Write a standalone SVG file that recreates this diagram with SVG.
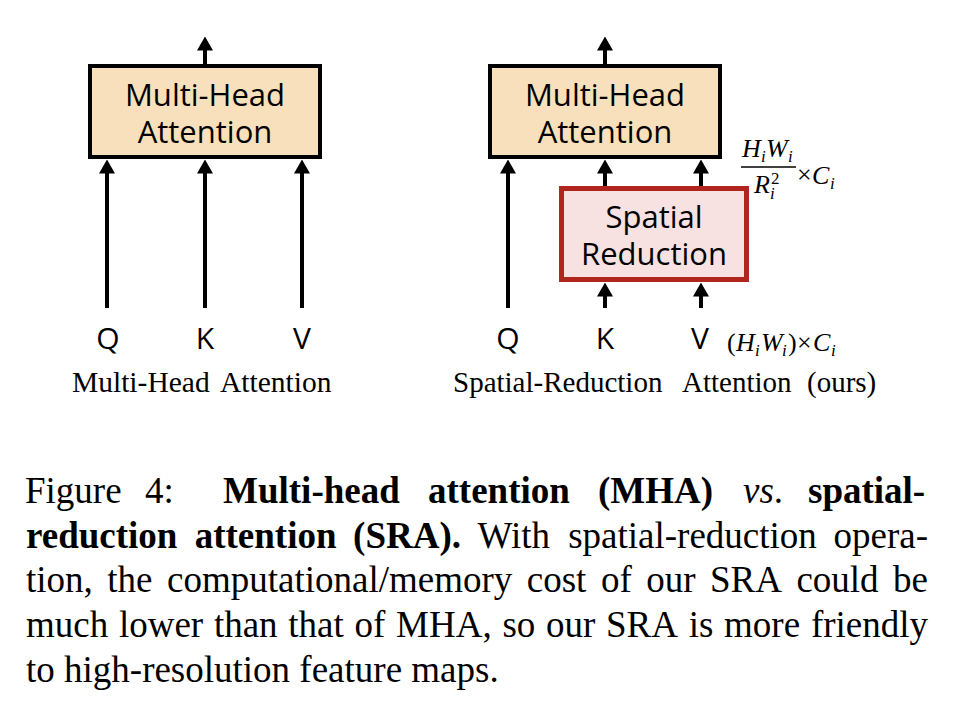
<svg xmlns="http://www.w3.org/2000/svg" width="974" height="718" viewBox="0 0 974 718">
<style>
.lbl{font-family:"Open Sans","Noto Sans",sans-serif;font-size:31px;fill:#000;text-anchor:middle}
.qkv{font-family:"Open Sans","Noto Sans",sans-serif;font-size:30px;fill:#000;text-anchor:middle}
.cap{font-family:"Liberation Serif","Times New Roman",serif;font-size:29.5px;fill:#000}
.fig{font-family:"Liberation Serif","Times New Roman",serif;font-size:37px;fill:#000}
.b{font-weight:bold}
.it{font-style:italic}
.m{font-family:"Liberation Serif","Times New Roman",serif;font-size:26px;font-style:italic;fill:#000}
.mu{font-family:"Liberation Serif","Times New Roman",serif;font-size:26px;fill:#000}
.ms{font-family:"Liberation Serif","Times New Roman",serif;font-size:17px;font-style:italic;fill:#000}
.sup{font-family:"Liberation Serif","Times New Roman",serif;font-size:17px;fill:#000}
.mha{fill:#F9E0BC;stroke:#000;stroke-width:4}
.sr{fill:#F8E1E1;stroke:#B0261E;stroke-width:5}
.conn line{stroke:#000;stroke-width:4;marker-end:url(#ah)}
</style>
<defs>
<marker id="ah" markerUnits="userSpaceOnUse" markerWidth="14" markerHeight="16" viewBox="0 0 14 16" refX="0.5" refY="8" orient="auto">
<path d="M0,0 L14,8 L0,16 z" fill="#000"/>
</marker>
</defs>
<rect width="974" height="718" fill="#fff"/>

<g id="left-mha">
<rect class="mha" x="90" y="66" width="230" height="91"/>
<text class="lbl" x="205" y="106">Multi-Head</text>
<text class="lbl" x="205" y="143">Attention</text>
</g>
<g id="left-q"><text class="qkv" x="108" y="349">Q</text></g>
<g id="left-k"><text class="qkv" x="205" y="349">K</text></g>
<g id="left-v"><text class="qkv" x="302" y="349">V</text></g>

<g id="right-mha">
<rect class="mha" x="490" y="66" width="230" height="91"/>
<text class="lbl" x="605" y="106">Multi-Head</text>
<text class="lbl" x="605" y="143">Attention</text>
</g>
<g id="spatial-reduction">
<rect class="sr" x="561.5" y="188.5" width="185" height="91"/>
<text class="lbl" x="654" y="228">Spatial</text>
<text class="lbl" x="654" y="265">Reduction</text>
</g>
<g id="right-q"><text class="qkv" x="508" y="349">Q</text></g>
<g id="right-k"><text class="qkv" x="605" y="349">K</text></g>
<g id="right-v"><text class="qkv" x="700" y="349">V</text></g>

<g class="conn" id="connectors">
<line x1="205" y1="64" x2="205" y2="50"/>
<line x1="107" y1="308" x2="107" y2="173"/>
<line x1="205" y1="308" x2="205" y2="173"/>
<line x1="302" y1="308" x2="302" y2="173"/>
<line x1="605" y1="64" x2="605" y2="50"/>
<line x1="508" y1="308" x2="508" y2="173"/>
<line x1="605" y1="186" x2="605" y2="173"/>
<line x1="701" y1="186" x2="701" y2="173"/>
<line x1="605" y1="308" x2="605" y2="296"/>
<line x1="701" y1="308" x2="701" y2="296"/>
</g>

<g id="math-reduced">
<text class="m" x="742" y="157">H</text>
<text class="ms" x="761" y="162">i</text>
<text class="m" x="766" y="157">W</text>
<text class="ms" x="788" y="162">i</text>
<line x1="741" y1="167" x2="796" y2="167" stroke="#000" stroke-width="1.6"/>
<text class="m" x="754" y="193">R</text>
<text class="ms" x="770" y="199">i</text>
<text class="sup" x="771" y="184">2</text>
<text class="mu" x="797" y="183">×</text>
<text class="m" x="812" y="184">C</text>
<text class="ms" x="830" y="189">i</text>
</g>
<g id="math-full">
<text class="mu" x="727" y="351">(</text>
<text class="m" x="736" y="351">H</text>
<text class="ms" x="755" y="356">i</text>
<text class="m" x="761" y="351">W</text>
<text class="ms" x="782" y="356">i</text>
<text class="mu" x="788" y="351">)</text>
<text class="mu" x="797" y="351">×</text>
<text class="m" x="813" y="351">C</text>
<text class="ms" x="831" y="356">i</text>
</g>

<text class="cap" y="392"><tspan x="72">Multi-Head</tspan><tspan x="220">Attention</tspan></text>
<text class="cap" y="392" style="font-size:29px"><tspan x="453">Spatial-Reduction</tspan><tspan x="682">Attention</tspan><tspan x="807">(ours)</tspan></text>

<g id="caption">
<text class="fig" y="503"><tspan x="25">Figure</tspan><tspan x="145">4:</tspan><tspan class="b" x="223">Multi-head</tspan><tspan class="b" x="428">attention</tspan><tspan class="b" x="598">(MHA)</tspan><tspan class="it" x="743">vs</tspan><tspan>.</tspan><tspan class="b" x="808">spatial-</tspan></text>
<text class="fig" y="548"><tspan class="b" x="26">reduction</tspan><tspan class="b" x="194.7">attention</tspan><tspan class="b" x="353.1">(SRA).</tspan><tspan x="477.6">With</tspan><tspan x="568.2">spatial-reduction</tspan><tspan x="833.5">opera-</tspan></text>
<text class="fig" y="592"><tspan x="26">tion,</tspan><tspan x="107.3">the</tspan><tspan x="167">computational/memory</tspan><tspan x="526.8">cost</tspan><tspan x="600.9">of</tspan><tspan x="646.2">our</tspan><tspan x="710">SRA</tspan><tspan x="796.4">could</tspan><tspan x="893.1">be</tspan></text>
<text class="fig" y="637"><tspan x="26">much</tspan><tspan x="118.9">lower</tspan><tspan x="213.9">than</tspan><tspan x="288.3">that</tspan><tspan x="354.5">of</tspan><tspan x="396.1">MHA,</tspan><tspan x="502.4">so</tspan><tspan x="546">our</tspan><tspan x="606">SRA</tspan><tspan x="688.7">is</tspan><tspan x="724.1">more</tspan><tspan x="810.9">friendly</tspan></text>
<text class="fig" x="26" y="682">to high-resolution feature maps.</text>
</g>
</svg>
